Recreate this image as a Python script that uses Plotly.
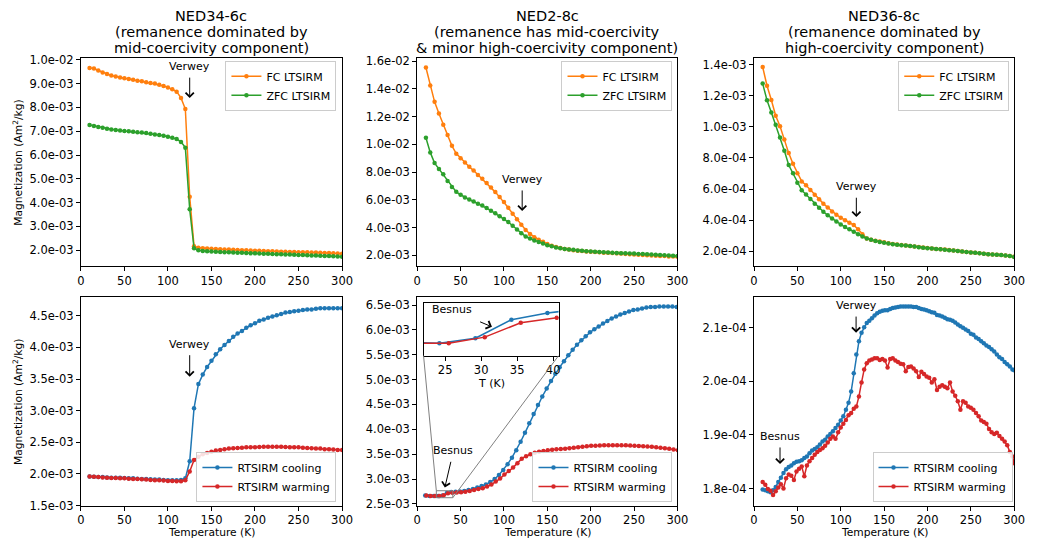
import plotly.graph_objects as go

# ---------------- DATA ----------------
T_5K = list(range(10, 301, 5))

# NED34-6c LTSIRM (x1e-3 Am2/kg)
fc_34 = [9.66, 9.63, 9.55, 9.47, 9.40, 9.34, 9.30, 9.26, 9.22, 9.19,
         9.16, 9.12, 9.10, 9.06, 9.03, 9.00, 8.95, 8.90, 8.84, 8.76,
         8.66, 8.40, 7.93, 4.25, 2.17, 2.10, 2.08, 2.07, 2.06, 2.05,
         2.04, 2.03, 2.03, 2.02, 2.01, 2.00, 2.00, 1.99, 1.98, 1.98,
         1.97, 1.96, 1.96, 1.95, 1.94, 1.94, 1.93, 1.93, 1.92, 1.91,
         1.91, 1.90, 1.90, 1.89, 1.88, 1.88, 1.87, 1.86, 1.85]
zfc_34 = [7.26, 7.22, 7.18, 7.14, 7.10, 7.07, 7.05, 7.03, 7.01, 7.00,
          6.98, 6.96, 6.95, 6.92, 6.89, 6.86, 6.84, 6.81, 6.77, 6.73,
          6.67, 6.55, 6.31, 3.72, 2.08, 2.00, 1.97, 1.96, 1.95, 1.94,
          1.93, 1.92, 1.91, 1.90, 1.89, 1.89, 1.88, 1.87, 1.87, 1.86,
          1.85, 1.85, 1.84, 1.83, 1.83, 1.82, 1.82, 1.81, 1.80, 1.80,
          1.79, 1.78, 1.78, 1.77, 1.76, 1.76, 1.75, 1.74, 1.73]

# NED2-8c LTSIRM (x1e-3)
fc_2 = [15.53, 14.24, 13.06, 12.22, 11.42, 10.67, 9.89, 9.33, 9.00, 8.69,
        8.39, 8.11, 7.80, 7.52, 7.21, 6.89, 6.56, 6.20, 5.85, 5.43,
        5.01, 4.61, 4.21, 3.83, 3.55, 3.31, 3.13, 2.99, 2.82, 2.70,
        2.61, 2.54, 2.47, 2.42, 2.38, 2.34, 2.31, 2.28, 2.26, 2.24,
        2.22, 2.20, 2.19, 2.17, 2.15, 2.13, 2.11, 2.09, 2.07, 2.05,
        2.03, 2.01, 2.00, 1.98, 1.96, 1.95, 1.93, 1.92, 1.91]
zfc_2 = [10.48, 9.42, 8.65, 8.22, 7.85, 7.36, 6.93, 6.58, 6.37, 6.18,
         6.02, 5.88, 5.73, 5.59, 5.41, 5.22, 5.03, 4.82, 4.63, 4.40,
         4.14, 3.86, 3.60, 3.36, 3.22, 3.08, 2.96, 2.85, 2.73, 2.66,
         2.57, 2.52, 2.47, 2.43, 2.40, 2.36, 2.33, 2.30, 2.28, 2.26,
         2.24, 2.22, 2.21, 2.19, 2.18, 2.16, 2.15, 2.14, 2.13, 2.11,
         2.10, 2.08, 2.07, 2.05, 2.03, 2.01, 1.99, 1.97, 1.95]

# NED36-8c LTSIRM (x1e-4)
fc_36 = [13.85, 12.64, 11.73, 10.71, 10.04, 9.18, 8.31, 7.62, 7.01, 6.49,
         6.24, 5.94, 5.63, 5.34, 5.06, 4.81, 4.56, 4.35, 4.16, 3.99,
         3.83, 3.68, 3.41, 3.09, 2.82, 2.73, 2.67, 2.62, 2.57, 2.52,
         2.46, 2.43, 2.40, 2.37, 2.34, 2.31, 2.27, 2.24, 2.21, 2.18,
         2.15, 2.13, 2.11, 2.08, 2.04, 2.01, 1.98, 1.95, 1.92, 1.90,
         1.87, 1.84, 1.81, 1.79, 1.77, 1.75, 1.73, 1.69, 1.64]
zfc_36 = [12.78, 11.71, 10.92, 10.14, 9.32, 8.46, 7.54, 7.01, 6.41, 5.92,
          5.65, 5.36, 5.06, 4.79, 4.54, 4.31, 4.10, 3.91, 3.72, 3.55,
          3.41, 3.26, 3.09, 2.94, 2.82, 2.73, 2.66, 2.60, 2.55, 2.50,
          2.45, 2.42, 2.39, 2.36, 2.33, 2.30, 2.26, 2.23, 2.19, 2.17,
          2.14, 2.12, 2.10, 2.07, 2.04, 2.01, 1.98, 1.95, 1.92, 1.90,
          1.87, 1.84, 1.81, 1.79, 1.77, 1.75, 1.73, 1.69, 1.63]

# NED34-6c RTSIRM (x1e-3)
cool_34 = [1.96, 1.955, 1.95, 1.95, 1.945, 1.94, 1.94, 1.94, 1.935, 1.93,
           1.93, 1.925, 1.92, 1.92, 1.915, 1.91, 1.91, 1.905, 1.90, 1.90,
           1.90, 1.905, 1.93, 2.20, 3.04, 3.42, 3.57, 3.69, 3.79, 3.89,
           3.97, 4.04, 4.10, 4.17, 4.22, 4.26, 4.31, 4.35, 4.38, 4.42,
           4.44, 4.47, 4.49, 4.51, 4.53, 4.55, 4.56, 4.57, 4.58, 4.59,
           4.60, 4.60, 4.61, 4.62, 4.62, 4.62, 4.62, 4.62, 4.62]
warm_34 = [1.96, 1.955, 1.95, 1.945, 1.94, 1.935, 1.935, 1.93, 1.93, 1.925,
           1.92, 1.92, 1.915, 1.91, 1.905, 1.90, 1.90, 1.895, 1.89, 1.89,
           1.885, 1.885, 1.90, 2.04, 2.22, 2.27, 2.31, 2.33, 2.35, 2.37,
           2.38, 2.39, 2.40, 2.405, 2.41, 2.415, 2.42, 2.42, 2.42, 2.425,
           2.43, 2.43, 2.43, 2.43, 2.43, 2.425, 2.42, 2.42, 2.42, 2.415,
           2.41, 2.405, 2.40, 2.40, 2.39, 2.39, 2.385, 2.38, 2.38]

# NED2-8c RTSIRM (x1e-3)
T_cool_2 = [9.2, 14.2, 19.2, 24.2, 29.2, 34.2, 39.2, 44.2, 49.2, 54.2,
            59.2, 64.2, 69.2, 74.2, 79.2, 84.2, 89.2, 94.2, 99.2, 104.2,
            109.2, 114.2, 119.2, 124.2, 129.2, 134.2, 139.2, 144.2, 149.2, 154.2,
            159.2, 164.2, 169.2, 174.2, 179.2, 184.2, 189.2, 194.2, 199.2, 204.2,
            209.2, 214.2, 219.2, 224.2, 229.2, 234.2, 239.2, 244.2, 249.2, 254.2,
            259.2, 264.2, 269.2, 274.2, 279.2, 284.2, 289.2, 294.2, 299.2]
cool_2 = [2.67, 2.66, 2.66, 2.658, 2.671, 2.72, 2.738, 2.745, 2.75, 2.76,
          2.78, 2.80, 2.83, 2.86, 2.89, 2.94, 3.00, 3.08, 3.18, 3.30,
          3.43, 3.58, 3.75, 3.93, 4.12, 4.31, 4.49, 4.66, 4.82, 4.97,
          5.12, 5.25, 5.37, 5.49, 5.60, 5.70, 5.79, 5.87, 5.95, 6.01,
          6.07, 6.13, 6.18, 6.23, 6.27, 6.31, 6.34, 6.37, 6.40, 6.41,
          6.43, 6.45, 6.46, 6.46, 6.47, 6.47, 6.47, 6.47, 6.46]
T_warm_2 = [10.5, 15.5, 20.5, 25.5, 30.5, 35.5, 40.5, 45.5, 50.5, 55.5,
            60.5, 65.5, 70.5, 75.5, 80.5, 85.5, 90.5, 95.5, 100.5, 105.5,
            110.5, 115.5, 120.5, 125.5, 130.5, 135.5, 140.5, 145.5, 150.5, 155.5,
            160.5, 165.5, 170.5, 175.5, 180.5, 185.5, 190.5, 195.5, 200.5, 205.5,
            210.5, 215.5, 220.5, 225.5, 230.5, 235.5, 240.5, 245.5, 250.5, 255.5,
            260.5, 265.5, 270.5, 275.5, 280.5, 285.5, 290.5, 295.5, 300.5]
warm_2 = [2.67, 2.66, 2.658, 2.658, 2.674, 2.712, 2.725, 2.73, 2.735, 2.745,
          2.76, 2.78, 2.80, 2.815, 2.85, 2.89, 2.95, 3.01, 3.09, 3.16,
          3.23, 3.32, 3.41, 3.46, 3.50, 3.53, 3.55, 3.565, 3.58, 3.59,
          3.60, 3.605, 3.61, 3.62, 3.63, 3.64, 3.65, 3.66, 3.67, 3.67,
          3.675, 3.68, 3.68, 3.68, 3.68, 3.68, 3.68, 3.675, 3.67, 3.665,
          3.66, 3.655, 3.65, 3.64, 3.63, 3.62, 3.61, 3.595, 3.58]

# NED36-8c RTSIRM (x1e-4)
T_36r = [10, 13, 16, 19, 22, 25, 28, 31, 34, 37,
         40, 43, 46, 49, 52, 55, 58, 61, 64, 67,
         70, 73, 76, 79, 82, 85, 88, 91, 94, 97,
         100, 103, 106, 109, 112, 115, 118, 121, 124, 127,
         130, 133, 136, 139, 142, 145, 148, 151, 154, 157,
         160, 163, 166, 169, 172, 175, 178, 181, 184, 187,
         190, 193, 196, 199, 202, 205, 208, 211, 214, 217,
         220, 223, 226, 229, 232, 235, 238, 241, 244, 247,
         250, 253, 256, 259, 262, 265, 268, 271, 274, 277,
         280, 283, 286, 289, 292, 295, 298, 300]
cool_36 = [1.798, 1.797, 1.795, 1.793, 1.797, 1.803, 1.812, 1.820, 1.829, 1.836,
           1.840, 1.843, 1.847, 1.850, 1.851, 1.853, 1.857, 1.860, 1.866, 1.871,
           1.874, 1.877, 1.882, 1.888, 1.891, 1.897, 1.902, 1.907, 1.913, 1.919,
           1.927, 1.935, 1.947, 1.960, 1.981, 2.015, 2.050, 2.075, 2.091, 2.101,
           2.109, 2.113, 2.118, 2.123, 2.127, 2.130, 2.132, 2.133, 2.133, 2.135,
           2.137, 2.138, 2.139, 2.140, 2.140, 2.140, 2.140, 2.140, 2.139, 2.139,
           2.137, 2.135, 2.134, 2.133, 2.131, 2.129, 2.128, 2.124, 2.123, 2.121,
           2.119, 2.116, 2.115, 2.113, 2.110, 2.106, 2.103, 2.100, 2.097, 2.094,
           2.089, 2.087, 2.082, 2.079, 2.075, 2.071, 2.067, 2.064, 2.060, 2.056,
           2.050, 2.045, 2.042, 2.036, 2.032, 2.028, 2.022, 2.021]
warm_36 = [1.812, 1.807, 1.799, 1.796, 1.788, 1.795, 1.802, 1.808, 1.800, 1.819,
           1.826, 1.824, 1.816, 1.832, 1.837, 1.841, 1.823, 1.843, 1.851, 1.857,
           1.863, 1.868, 1.872, 1.875, 1.880, 1.886, 1.893, 1.897, 1.893, 1.905,
           1.914, 1.921, 1.928, 1.937, 1.941, 1.949, 1.953, 1.972, 1.998, 2.022,
           2.034, 2.039, 2.041, 2.043, 2.043, 2.040, 2.042, 2.039, 2.026, 2.042,
           2.043, 2.039, 2.036, 2.033, 2.032, 2.019, 2.027, 2.028, 2.024, 2.019,
           2.008, 2.018, 2.014, 2.009, 2.007, 1.998, 2.004, 1.984, 1.990, 1.993,
           1.990, 1.987, 1.998, 1.981, 1.973, 1.963, 1.947, 1.963, 1.960, 1.953,
           1.951, 1.947, 1.941, 1.935, 1.927, 1.924, 1.921, 1.911, 1.905, 1.902,
           1.904, 1.898, 1.893, 1.888, 1.881, 1.868, 1.860, 1.847]

# Tick labels
x_ticks = [0, 50, 100, 150, 200, 250, 300]
yt1 = ["2.0e-03", "3.0e-03", "4.0e-03", "5.0e-03", "6.0e-03", "7.0e-03", "8.0e-03", "9.0e-03", "1.0e-02"]
yt2 = ["2.0e-03", "4.0e-03", "6.0e-03", "8.0e-03", "1.0e-02", "1.2e-02", "1.4e-02", "1.6e-02"]
yt3 = ["2.0e-04", "4.0e-04", "6.0e-04", "8.0e-04", "1.0e-03", "1.2e-03", "1.4e-03"]
yt4 = ["1.5e-03", "2.0e-03", "2.5e-03", "3.0e-03", "3.5e-03", "4.0e-03", "4.5e-03"]
yt5 = ["2.5e-03", "3.0e-03", "3.5e-03", "4.0e-03", "4.5e-03", "5.0e-03", "5.5e-03", "6.0e-03", "6.5e-03"]
yt6 = ["1.8e-04", "1.9e-04", "2.0e-04", "2.1e-04"]
inset_ticks = [25, 30, 35, 40]

titles = [["NED34-6c", "(remanence dominated by", "mid-coercivity component)"],
          ["NED2-8c", "(remanence has mid-coercivity", "& minor high-coercivity component)"],
          ["NED36-8c", "(remanence dominated by", "high-coercivity component)"]]

# ---------------- STYLE / LAYOUT ----------------
W, H = 1038, 551
FONT = "DejaVu Sans"
C_OR, C_GR, C_BL, C_RD = "#ff7f0e", "#2ca02c", "#1f77b4", "#d62728"

X_DOM = [(78 / W, 343 / W), (419.3 / W, 683.3 / W), (761 / W, 1025 / W)]
Y_DOM = [(1 - 266.7 / H, 1 - 54.3 / H), (1 - 511.7 / H, 1 - 298.3 / H)]
INSET_X = (425.7 / W, 562.7 / W)
INSET_Y = (1 - 358.5 / H, 1 - 304.3 / H)

Y_RANGES = [(1.342e-3, 1.007e-2), (1.246e-3, 1.621e-2), (1.056e-4, 1.442e-3),
            (1.5e-3, 4.80e-3), (2.467e-3, 6.665e-3), (1.7682e-4, 2.1579e-4)]
INSET_XR = (22, 40.75)
INSET_YR = (2.625e-3, 2.765e-3)

fig = go.Figure()


def sc(vals, f):
    return [v * f for v in vals]


def add(xs, ys, name, color, n, legend, showlegend=True):
    fig.add_trace(go.Scatter(
        x=xs, y=ys, mode="lines+markers", name=name,
        line=dict(color=color, width=1.5),
        marker=dict(size=4.5, color=color),
        xaxis="x" if n == 1 else f"x{n}", yaxis="y" if n == 1 else f"y{n}",
        legend=legend, showlegend=showlegend))


add(T_5K, sc(fc_34, 1e-3), "FC LTSIRM", C_OR, 1, "legend")
add(T_5K, sc(zfc_34, 1e-3), "ZFC LTSIRM", C_GR, 1, "legend")
add(T_5K, sc(fc_2, 1e-3), "FC LTSIRM", C_OR, 2, "legend2")
add(T_5K, sc(zfc_2, 1e-3), "ZFC LTSIRM", C_GR, 2, "legend2")
add(T_5K, sc(fc_36, 1e-4), "FC LTSIRM", C_OR, 3, "legend3")
add(T_5K, sc(zfc_36, 1e-4), "ZFC LTSIRM", C_GR, 3, "legend3")
add(T_5K, sc(cool_34, 1e-3), "RTSIRM cooling", C_BL, 4, "legend4")
add(T_5K, sc(warm_34, 1e-3), "RTSIRM warming", C_RD, 4, "legend4")
add(T_cool_2, sc(cool_2, 1e-3), "RTSIRM cooling", C_BL, 5, "legend5")
add(T_warm_2, sc(warm_2, 1e-3), "RTSIRM warming", C_RD, 5, "legend5")
add(T_36r, sc(cool_36, 1e-4), "RTSIRM cooling", C_BL, 6, "legend6")
add(T_36r, sc(warm_36, 1e-4), "RTSIRM warming", C_RD, 6, "legend6")
# inset (same data, zoomed)
add(T_cool_2, sc(cool_2, 1e-3), "RTSIRM cooling", C_BL, 7, "legend5", False)
add(T_warm_2, sc(warm_2, 1e-3), "RTSIRM warming", C_RD, 7, "legend5", False)

axis_common = dict(showline=True, linecolor="black", linewidth=1, mirror=True,
                   ticks="outside", ticklen=4, tickwidth=1, tickcolor="black",
                   tickfont=dict(size=11.5, color="black", family=FONT),
                   showgrid=False, zeroline=False, fixedrange=True)

ytick_lists = [yt1, yt2, yt3, yt4, yt5, yt6]
layout = {}
for n in range(1, 7):
    r, c = (n - 1) // 3, (n - 1) % 3
    xk = "xaxis" if n == 1 else f"xaxis{n}"
    yk = "yaxis" if n == 1 else f"yaxis{n}"
    xa = "x" if n == 1 else f"x{n}"
    ya = "y" if n == 1 else f"y{n}"
    layout[xk] = dict(axis_common, domain=list(X_DOM[c]), range=[0, 300], anchor=ya,
                      tickvals=x_ticks, ticktext=[str(v) for v in x_ticks])
    tt = ytick_lists[n - 1]
    layout[yk] = dict(axis_common, domain=list(Y_DOM[r]), range=list(Y_RANGES[n - 1]), anchor=xa,
                      tickvals=[float(t) for t in tt], ticktext=tt)
layout["xaxis7"] = dict(axis_common, domain=list(INSET_X), range=list(INSET_XR), anchor="y7",
                        tickvals=inset_ticks, ticktext=[str(v) for v in inset_ticks])
layout["yaxis7"] = dict(axis_common, domain=list(INSET_Y), range=list(INSET_YR), anchor="x7",
                        showticklabels=False, ticks="")

leg_common = dict(bgcolor="rgba(255,255,255,0.85)", bordercolor="#cccccc", borderwidth=1,
                  font=dict(size=11, color="black", family=FONT), tracegroupgap=0,
                  itemclick=False, itemdoubleclick=False)
leg_pos = {"legend": (337.3, 57, "top"), "legend2": (678.3, 57, "top"), "legend3": (1020, 57, "top"),
           "legend4": (337.3, 508, "bottom"), "legend5": (678.3, 508, "bottom"),
           "legend6": (1023.3, 508, "bottom")}
for k, (px, py, ya) in leg_pos.items():
    layout[k] = dict(leg_common, x=px / W, y=1 - py / H, xanchor="right", yanchor=ya)

annotations = []
# column titles
for c in range(3):
    xc = (X_DOM[c][0] + X_DOM[c][1]) / 2
    for line, ypx in zip(titles[c], [11.3, 27.3, 43.5]):
        annotations.append(dict(text=line, x=xc, y=1 - ypx / H, xref="paper", yref="paper",
                                xanchor="center", yanchor="middle", showarrow=False,
                                font=dict(size=14.5, color="black", family=FONT)))
# axis titles
for r in range(2):
    annotations.append(dict(text="Magnetization (Am<sup>2</sup>/kg)", x=14 / W,
                            y=(Y_DOM[r][0] + Y_DOM[r][1]) / 2, xref="paper", yref="paper",
                            textangle=-90, showarrow=False, xanchor="center", yanchor="middle",
                            font=dict(size=10.7, color="black", family=FONT)))
for c in range(3):
    annotations.append(dict(text="Temperature (K)", x=(X_DOM[c][0] + X_DOM[c][1]) / 2, y=1 - 539.3 / H,
                            xref="paper", yref="paper", showarrow=False, xanchor="center",
                            yanchor="middle", font=dict(size=10.7, color="black", family=FONT)))
annotations.append(dict(text="T (K)", x=(INSET_X[0] + INSET_X[1]) / 2, y=1 - 387.3 / H,
                        xref="paper", yref="paper", showarrow=False, xanchor="center",
                        yanchor="middle", font=dict(size=11, color="black", family=FONT)))


def label_arrow(n, text, xt, yt, xtip, ytip, gap=3):
    """Text centred at (xt, yt); arrow from the text towards (xtip, ytip)."""
    xr = "x" if n == 1 else f"x{n}"
    yr = "y domain" if n == 1 else f"y{n} domain"
    annotations.append(dict(text=text, x=xtip, y=ytip, xref=xr, yref=yr, ax=xt, ay=yt,
                            axref=xr, ayref=yr, showarrow=True, arrowhead=4, arrowsize=1.6,
                            arrowwidth=1, arrowcolor="black", standoff=0, startstandoff=gap,
                            font=dict(size=11, color="black", family=FONT)))


label_arrow(1, "Verwey", 125, 0.959, 125, 0.808)
label_arrow(2, "Verwey", 121, 0.416, 121, 0.264)
label_arrow(3, "Verwey", 118, 0.381, 118, 0.235)
label_arrow(4, "Verwey", 125, 0.773, 125, 0.617)
label_arrow(5, "Besnus", 41.7, 0.262, 31.8, 0.086)
label_arrow(6, "Verwey", 117.7, 0.958, 117.7, 0.828)
label_arrow(6, "Besnus", 30, 0.331, 30, 0.199)
label_arrow(7, "Besnus", 25.95, 0.863, 31.5, 0.544, gap=10)


# inset indicator rectangle + connector lines on the main axes of panel 5
def paper_to_x5(px):
    d0, d1 = X_DOM[1]
    return (px - d0) / (d1 - d0) * 300


def paper_to_y5(py):
    d0, d1 = Y_DOM[1]
    r0, r1 = Y_RANGES[4]
    return r0 + (py - d0) / (d1 - d0) * (r1 - r0)


rect_x0, rect_x1 = 22, 41
shapes = [
    dict(type="rect", xref="x5", yref="y5", x0=rect_x0, x1=rect_x1, y0=INSET_YR[0], y1=INSET_YR[1],
         line=dict(color="#808080", width=1), fillcolor="rgba(0,0,0,0)", layer="above"),
    dict(type="line", xref="x5", yref="y5", x0=paper_to_x5(INSET_X[0]), y0=paper_to_y5(INSET_Y[0]),
         x1=rect_x0, y1=INSET_YR[1], line=dict(color="#808080", width=1), layer="above"),
    dict(type="line", xref="x5", yref="y5", x0=paper_to_x5(INSET_X[1]), y0=paper_to_y5(INSET_Y[0]),
         x1=rect_x1, y1=INSET_YR[0], line=dict(color="#808080", width=1), layer="above"),
]

fig.update_layout(
    width=W, height=H, margin=dict(l=0, r=0, t=0, b=0),
    paper_bgcolor="white", plot_bgcolor="white",
    font=dict(family=FONT, color="black"),
    annotations=annotations, shapes=shapes, **layout)

# remove the browser's default 8px page margin so the figure sits at the window origin
fig.write_html("out.html", config={"displayModeBar": False},
               post_script="document.body.style.margin='0px';document.body.style.overflow='hidden';")
